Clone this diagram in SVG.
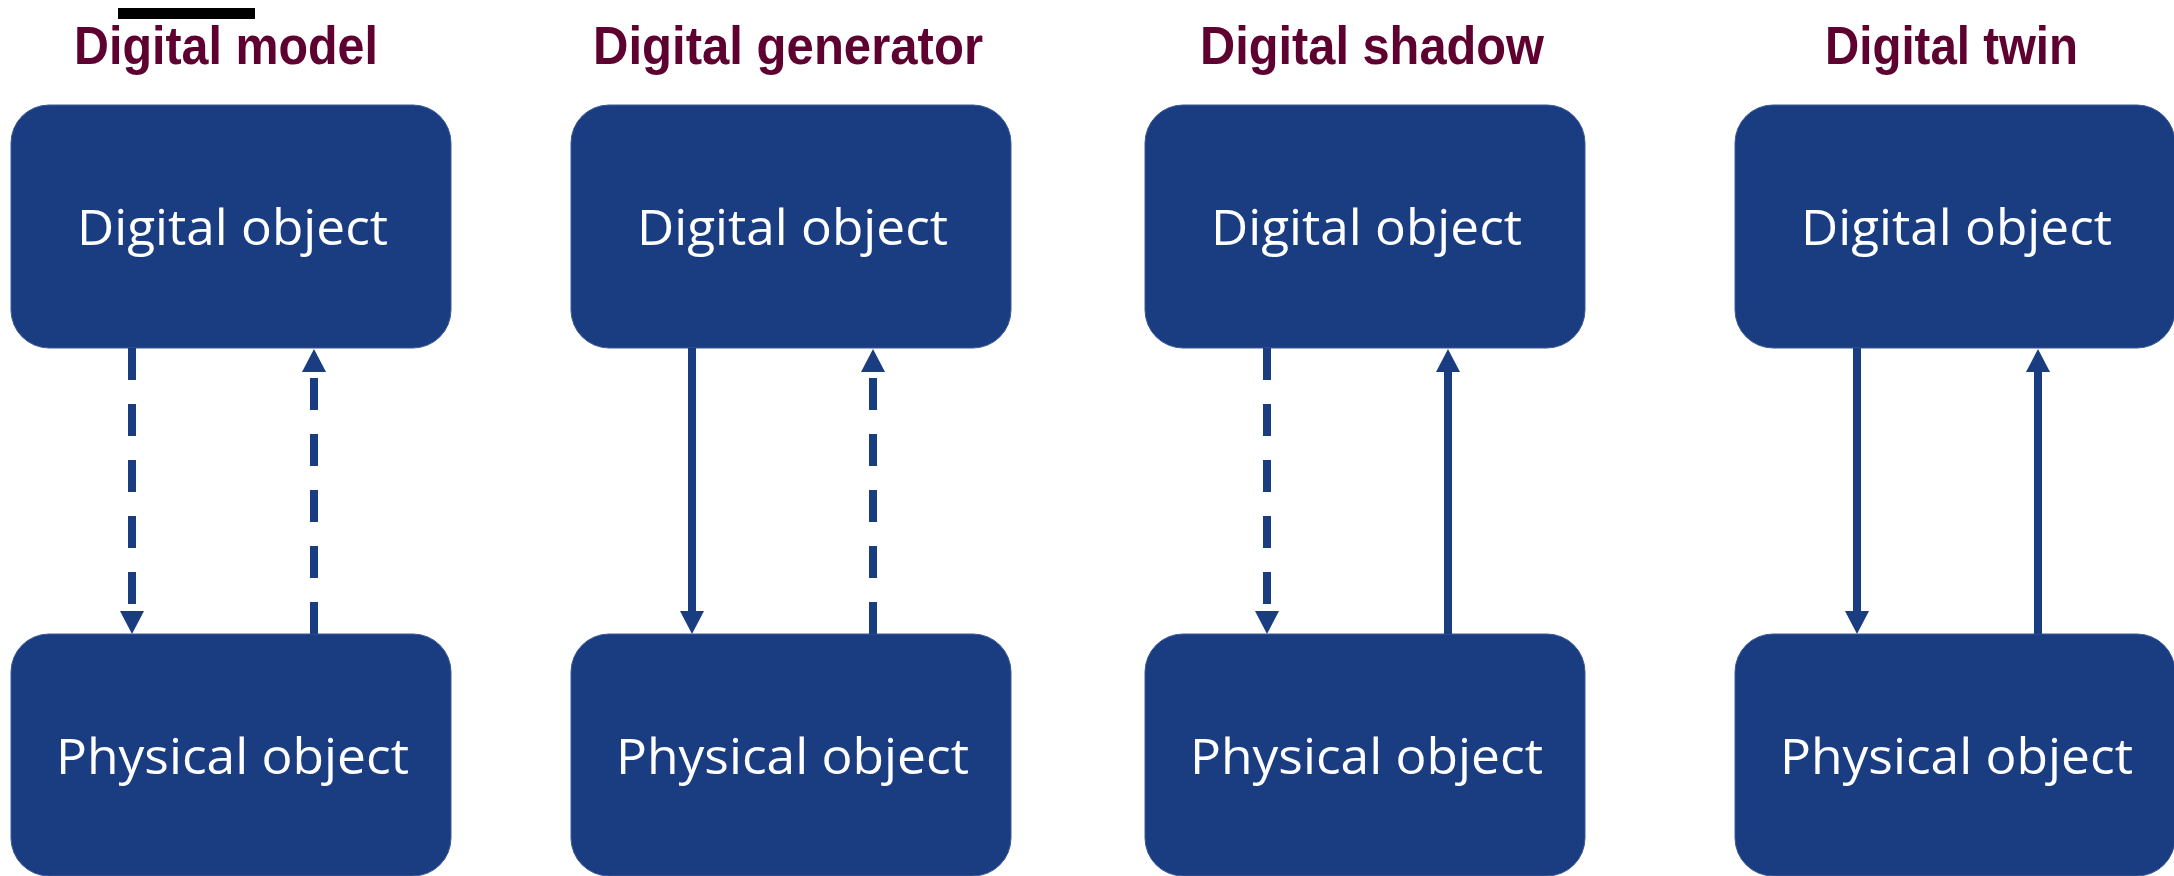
<svg xmlns="http://www.w3.org/2000/svg" width="2174" height="876" viewBox="0 0 2174 876">
  <defs>
    <style>
      .title { font-family: "Liberation Sans", Arial, sans-serif; font-weight: bold; font-size: 53px; fill: #5e0030; }
      .box { fill: #1a3d82; stroke: #3a5a96; stroke-width: 1; }
      .label { font-family: "Open Sans", "Noto Sans", sans-serif; font-size: 50px; fill: #ffffff; }
      .link { stroke: #1a3d82; stroke-width: 8; fill: none; }
      .dashed { stroke-dasharray: 32 24; }
    </style>
    <marker id="head" viewBox="0 0 23 24" markerWidth="23" markerHeight="24" refX="0" refY="12" orient="auto" markerUnits="userSpaceOnUse">
      <path d="M0,0 L23,12 L0,24 Z" fill="#1a3d82"/>
    </marker>
  </defs>

  <rect width="2174" height="876" fill="#ffffff"/>

  <!-- short black rule above the first heading -->
  <rect x="118" y="8" width="137" height="11" fill="#000000"/>

  <!-- headings -->
  <text class="title" x="74" y="64" textLength="304" lengthAdjust="spacingAndGlyphs">Digital model</text>
  <text class="title" x="593" y="64" textLength="390" lengthAdjust="spacingAndGlyphs">Digital generator</text>
  <text class="title" x="1200" y="64" textLength="344" lengthAdjust="spacingAndGlyphs">Digital shadow</text>
  <text class="title" x="1825" y="64" textLength="253" lengthAdjust="spacingAndGlyphs">Digital twin</text>

  <!-- column 1: digital model -->
  <g id="model-digital">
    <rect class="box" x="11" y="105" width="440" height="243" rx="38" ry="38"/>
    <text class="label" x="77" y="245" textLength="311" lengthAdjust="spacingAndGlyphs">Digital object</text>
  </g>
  <g id="model-physical">
    <rect class="box" x="11" y="634" width="440" height="242" rx="38" ry="38"/>
    <text class="label" x="56" y="774" textLength="353" lengthAdjust="spacingAndGlyphs">Physical object</text>
  </g>

  <!-- column 2: digital generator -->
  <g id="generator-digital">
    <rect class="box" x="571" y="105" width="440" height="243" rx="38" ry="38"/>
    <text class="label" x="637" y="245" textLength="311" lengthAdjust="spacingAndGlyphs">Digital object</text>
  </g>
  <g id="generator-physical">
    <rect class="box" x="571" y="634" width="440" height="242" rx="38" ry="38"/>
    <text class="label" x="616" y="774" textLength="353" lengthAdjust="spacingAndGlyphs">Physical object</text>
  </g>

  <!-- column 3: digital shadow -->
  <g id="shadow-digital">
    <rect class="box" x="1145" y="105" width="440" height="243" rx="38" ry="38"/>
    <text class="label" x="1211" y="245" textLength="311" lengthAdjust="spacingAndGlyphs">Digital object</text>
  </g>
  <g id="shadow-physical">
    <rect class="box" x="1145" y="634" width="440" height="242" rx="38" ry="38"/>
    <text class="label" x="1190" y="774" textLength="353" lengthAdjust="spacingAndGlyphs">Physical object</text>
  </g>

  <!-- column 4: digital twin -->
  <g id="twin-digital">
    <rect class="box" x="1735" y="105" width="440" height="243" rx="38" ry="38"/>
    <text class="label" x="1801" y="245" textLength="311" lengthAdjust="spacingAndGlyphs">Digital object</text>
  </g>
  <g id="twin-physical">
    <rect class="box" x="1735" y="634" width="440" height="242" rx="38" ry="38"/>
    <text class="label" x="1780" y="774" textLength="353" lengthAdjust="spacingAndGlyphs">Physical object</text>
  </g>

  <!-- data flows: dashed = manual, solid = automatic -->
  <g id="connectors">
    <line class="link dashed" x1="132" y1="348" x2="132" y2="611" marker-end="url(#head)"/>
    <line class="link dashed" x1="314" y1="634" x2="314" y2="372" marker-end="url(#head)"/>

    <line class="link" x1="692" y1="348" x2="692" y2="611" marker-end="url(#head)"/>
    <line class="link dashed" x1="873" y1="634" x2="873" y2="372" marker-end="url(#head)"/>

    <line class="link dashed" x1="1267" y1="348" x2="1267" y2="611" marker-end="url(#head)"/>
    <line class="link" x1="1448" y1="634" x2="1448" y2="372" marker-end="url(#head)"/>

    <line class="link" x1="1857" y1="348" x2="1857" y2="611" marker-end="url(#head)"/>
    <line class="link" x1="2038" y1="634" x2="2038" y2="372" marker-end="url(#head)"/>
  </g>
</svg>
